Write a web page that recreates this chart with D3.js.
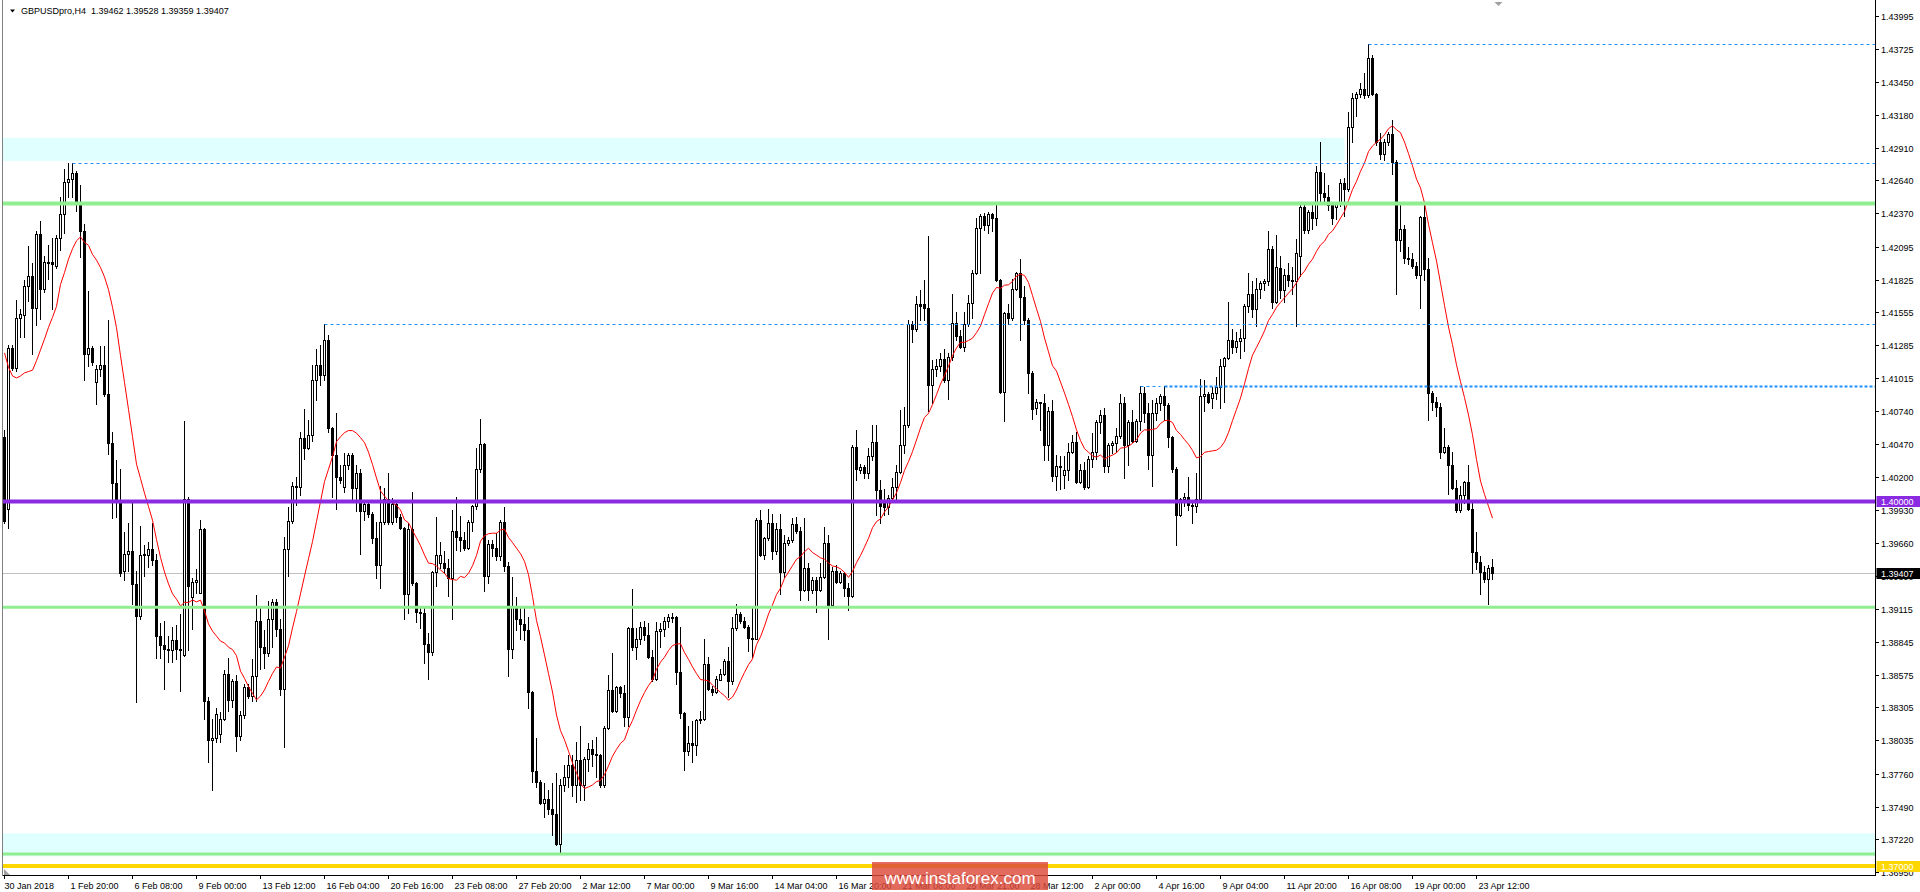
<!DOCTYPE html>
<html><head><meta charset="utf-8">
<script src="https://cdn.jsdelivr.net/npm/d3@7"></script>
<style>
html,body{margin:0;padding:0;background:#fff;overflow:hidden;}
svg{display:block;}
text{font-family:"Liberation Sans",Arial,sans-serif;}
</style></head><body>
<svg id="c" width="1920" height="892"></svg>
<script>
// ---------- DATA (GBPUSDpro, H4) ----------
const symbolTitle = "GBPUSDpro,H4";
const lastQuote = [1.39462, 1.39528, 1.39359, 1.39407];

const open = [1.4053,1.3994,1.4126,1.4110,1.4151,1.4153,1.4177,1.4185,1.4159,1.4220,1.4175,1.4197,1.4197,1.4194,1.4217,1.4236,1.4263,1.4265,1.4270,1.4246,
1.4222,1.4121,1.4126,1.4098,1.4109,1.4112,1.4088,1.4048,1.4015,1.4000,1.3943,1.3957,1.3959,1.3932,1.3906,1.3956,1.3956,1.3961,1.3952,1.3889,
1.3882,1.3878,1.3878,1.3886,1.3879,1.3874,1.4002,1.3921,1.3934,1.3925,1.3977,1.3836,1.3804,1.3805,1.3809,1.3821,1.3858,1.3837,1.3852,1.3807,
1.3824,1.3847,1.3840,1.3856,1.3902,1.3880,1.3875,1.3903,1.3917,1.3895,1.3846,1.3961,1.3984,1.4013,1.4012,1.4052,1.4044,1.4055,1.4100,1.4112,
1.4104,1.4133,1.4060,1.4038,1.4020,1.4012,1.4030,1.4038,1.4011,1.4023,1.3992,1.3998,1.3990,1.3970,1.3948,1.3983,1.4002,1.3983,1.3998,1.3987,
1.3978,1.3924,1.3977,1.3933,1.3909,1.3908,1.3883,1.3876,1.3942,1.3949,1.3949,1.3945,1.3937,1.3976,1.3971,1.3968,1.3962,1.3983,1.3996,1.4027,
1.4047,1.3939,1.3965,1.3962,1.3955,1.3983,1.3947,1.3879,1.3913,1.3903,1.3899,1.3894,1.3843,1.3778,1.3769,1.3752,1.3755,1.3747,1.3743,1.3718,
1.3767,1.3773,1.3783,1.3767,1.3787,1.3767,1.3788,1.3796,1.3792,1.3791,1.3767,1.3814,1.3845,1.3828,1.3847,1.3842,1.3823,1.3896,1.3880,1.3887,
1.3897,1.3890,1.3872,1.3854,1.3893,1.3895,1.3902,1.3905,1.3905,1.3860,1.3826,1.3795,1.3801,1.3800,1.3820,1.3821,1.3866,1.3846,1.3843,1.3853,
1.3858,1.3869,1.3852,1.3896,1.3907,1.3902,1.3897,1.3888,1.3887,1.3985,1.3956,1.3970,1.3982,1.3959,1.3977,1.3942,1.3966,1.3968,1.3981,1.3976,
1.3927,1.3945,1.3927,1.3935,1.3927,1.3938,1.3966,1.3915,1.3943,1.3934,1.3941,1.3929,1.3922,1.4045,1.4026,1.4028,1.4023,1.4037,1.4049,1.4009,
1.3999,1.3995,1.4003,1.4012,1.4024,1.4046,1.4063,1.4146,1.4142,1.4162,1.4162,1.4159,1.4096,1.4109,1.4111,1.4117,1.4100,1.4119,1.4147,1.4136,
1.4127,1.4146,1.4163,1.4188,1.4225,1.4235,1.4227,1.4236,1.4233,1.4182,1.4090,1.4155,1.4151,1.4175,1.4188,1.4168,1.4149,1.4106,1.4077,1.4082,
1.4081,1.4046,1.4074,1.4021,1.4029,1.4022,1.4026,1.4041,1.4049,1.4016,1.4026,1.4012,1.4035,1.4041,1.4065,1.4071,1.4029,1.4046,1.4048,1.4054,
1.4081,1.4046,1.4065,1.4050,1.4066,1.4089,1.4073,1.4038,1.4073,1.4081,1.4087,1.4079,1.4053,1.4027,1.3989,1.4002,1.4004,1.3997,1.3996,1.4002,
1.4087,1.4088,1.4085,1.4089,1.4094,1.4111,1.4118,1.4133,1.4127,1.4132,1.4134,1.4161,1.4171,1.4158,1.4175,1.4180,1.4181,1.4208,1.4164,1.4192,
1.4174,1.4186,1.4182,1.4181,1.4202,1.4242,1.4223,1.4238,1.4233,1.4271,1.4254,1.4250,1.4244,1.4242,1.4245,1.4262,1.4257,1.4308,1.4332,1.4335,
1.4339,1.4334,1.4365,1.4335,1.4296,1.4286,1.4296,1.4302,1.4279,1.4215,1.4224,1.4200,1.4199,1.4194,1.4186,1.4234,1.4191,1.4089,1.4082,1.4078,
1.4041,1.4045,1.4030,1.4011,1.3993,1.4005,1.4016,1.3994,1.3958,1.3950,1.3942,1.3936,1.39462];

const high = [1.4059,1.4129,1.4129,1.4166,1.4158,1.4182,1.4210,1.4196,1.4222,1.4231,1.4202,1.4211,1.4217,1.4219,1.4250,1.4273,1.4278,1.4278,1.4272,1.4260,
1.4228,1.4173,1.4128,1.4112,1.4128,1.4128,1.4149,1.4057,1.4034,1.4027,1.3975,1.3982,1.4000,1.3943,1.3980,1.3964,1.3967,1.3982,1.3957,1.3900,
1.3902,1.3889,1.3897,1.3898,1.3907,1.4066,1.4004,1.3937,1.3944,1.3985,1.3978,1.3839,1.3821,1.3830,1.3827,1.3861,1.3871,1.3854,1.3857,1.3828,
1.3850,1.3850,1.3870,1.3923,1.3912,1.3894,1.3918,1.3920,1.3920,1.3903,1.3971,1.3995,1.4016,1.4020,1.4057,1.4076,1.4067,1.4112,1.4125,1.4129,
1.4146,1.4137,1.4061,1.4073,1.4030,1.4040,1.4040,1.4040,1.4030,1.4027,1.4001,1.4001,1.3991,1.3983,1.4013,1.4011,1.4023,1.4003,1.4001,1.3990,
1.3979,1.3982,1.4008,1.3934,1.3913,1.3913,1.3892,1.3943,1.3987,1.3967,1.3959,1.3953,1.3993,1.4004,1.3988,1.3975,1.3985,1.3997,1.4044,1.4068,
1.4048,1.3968,1.3968,1.3974,1.3985,1.3995,1.3950,1.3938,1.3921,1.3912,1.3913,1.3905,1.3844,1.3805,1.3771,1.3768,1.3763,1.3768,1.3777,1.3772,
1.3783,1.3791,1.3791,1.3802,1.3815,1.3790,1.3801,1.3804,1.3806,1.3792,1.3815,1.3857,1.3875,1.3848,1.3848,1.3849,1.3897,1.3928,1.3896,1.3901,
1.3902,1.3900,1.3878,1.3901,1.3900,1.3905,1.3907,1.3908,1.3906,1.3897,1.3827,1.3815,1.3819,1.3821,1.3828,1.3887,1.3872,1.3848,1.3856,1.3862,
1.3870,1.3880,1.3905,1.3916,1.3909,1.3905,1.3898,1.3913,1.3986,1.3993,1.3971,1.3994,1.3990,1.3982,1.3990,1.3972,1.3971,1.3986,1.3987,1.3979,
1.3986,1.3949,1.3938,1.3938,1.3949,1.3979,1.3972,1.3946,1.3948,1.3943,1.3942,1.3933,1.4046,1.4059,1.4031,1.4030,1.4044,1.4063,1.4063,1.4018,
1.4010,1.4005,1.4019,1.4030,1.4075,1.4078,1.4149,1.4148,1.4169,1.4174,1.4182,1.4218,1.4116,1.4117,1.4122,1.4125,1.4122,1.4171,1.4156,1.4141,
1.4156,1.4170,1.4190,1.4233,1.4236,1.4237,1.4238,1.4237,1.4244,1.4183,1.4156,1.4162,1.4183,1.4189,1.4199,1.4177,1.4151,1.4107,1.4084,1.4082,
1.4088,1.4078,1.4083,1.4038,1.4037,1.4037,1.4048,1.4055,1.4057,1.4031,1.4032,1.4037,1.4056,1.4067,1.4075,1.4077,1.4048,1.4050,1.4060,1.4088,
1.4086,1.4067,1.4075,1.4068,1.4095,1.4094,1.4081,1.4083,1.4085,1.4088,1.4095,1.4081,1.4054,1.4028,1.4003,1.4007,1.4020,1.4001,1.4023,1.4101,
1.4100,1.4090,1.4094,1.4102,1.4117,1.4119,1.4164,1.4142,1.4139,1.4142,1.4162,1.4188,1.4181,1.4184,1.4181,1.4183,1.4222,1.4210,1.4219,1.4202,
1.4191,1.4196,1.4193,1.4216,1.4245,1.4245,1.4240,1.4244,1.4276,1.4296,1.4270,1.4260,1.4246,1.4246,1.4265,1.4266,1.4320,1.4336,1.4337,1.4344,
1.4352,1.4376,1.4367,1.4336,1.4303,1.4298,1.4304,1.4314,1.4281,1.4245,1.4227,1.4209,1.4204,1.4197,1.4235,1.4245,1.4200,1.4091,1.4086,1.4081,
1.4060,1.4046,1.4041,1.4018,1.4013,1.4017,1.4030,1.3999,1.3975,1.3955,1.3947,1.3948,1.39528];

const low = [1.3982,1.3978,1.4108,1.4107,1.4135,1.4135,1.4165,1.4121,1.4145,1.4150,1.4172,1.4183,1.4158,1.4192,1.4207,1.4221,1.4250,1.4250,1.4239,1.4201,
1.4100,1.4111,1.4112,1.4080,1.4103,1.4087,1.4039,1.3986,1.3987,1.3939,1.3935,1.3943,1.3916,1.3835,1.3903,1.3939,1.3946,1.3948,1.3871,1.3871,
1.3846,1.3868,1.3868,1.3870,1.3844,1.3873,1.3878,1.3895,1.3925,1.3925,1.3821,1.3786,1.3763,1.3802,1.3802,1.3820,1.3828,1.3831,1.3795,1.3804,
1.3822,1.3838,1.3836,1.3836,1.3862,1.3863,1.3873,1.3880,1.3889,1.3841,1.3798,1.3939,1.3982,1.3997,1.4005,1.4035,1.4043,1.4050,1.4083,1.4096,
1.4100,1.4057,1.4004,1.3994,1.4015,1.4008,1.4027,1.4001,1.3992,1.3957,1.3985,1.3987,1.3966,1.3937,1.3929,1.3981,1.3981,1.3981,1.3983,1.3977,
1.3903,1.3908,1.3931,1.3901,1.3896,1.3867,1.3854,1.3874,1.3930,1.3945,1.3941,1.3922,1.3903,1.3960,1.3959,1.3960,1.3961,1.3976,1.3994,1.4024,
1.3926,1.3933,1.3955,1.3952,1.3952,1.3943,1.3856,1.3871,1.3894,1.3887,1.3886,1.3830,1.3769,1.3765,1.3751,1.3740,1.3743,1.3726,1.3717,1.3710,
1.3762,1.3765,1.3758,1.3753,1.3754,1.3754,1.3778,1.3782,1.3773,1.3765,1.3765,1.3813,1.3827,1.3827,1.3839,1.3815,1.3815,1.3878,1.3870,1.3883,
1.3886,1.3871,1.3852,1.3853,1.3880,1.3889,1.3897,1.3901,1.3850,1.3822,1.3779,1.3791,1.3786,1.3791,1.3818,1.3820,1.3845,1.3841,1.3842,1.3853,
1.3857,1.3839,1.3850,1.3894,1.3900,1.3896,1.3877,1.3872,1.3887,1.3955,1.3953,1.3968,1.3953,1.3957,1.3924,1.3938,1.3964,1.3967,1.3974,1.3919,
1.3926,1.3919,1.3925,1.3909,1.3926,1.3937,1.3887,1.3913,1.3933,1.3933,1.3922,1.3911,1.3921,1.4018,1.4023,1.4019,1.4019,1.4034,1.3989,1.3982,
1.3989,1.3990,1.4001,1.4002,1.4023,1.4040,1.4061,1.4131,1.4140,1.4149,1.4149,1.4074,1.4081,1.4103,1.4107,1.4098,1.4084,1.4116,1.4133,1.4126,
1.4124,1.4144,1.4151,1.4187,1.4188,1.4223,1.4221,1.4222,1.4181,1.4089,1.4066,1.4146,1.4149,1.4174,1.4133,1.4146,1.4089,1.4068,1.4072,1.4059,
1.4034,1.4034,1.4017,1.4009,1.4010,1.4011,1.4018,1.4040,1.4015,1.4015,1.4010,1.4011,1.4028,1.4035,1.4056,1.4024,1.4024,1.4040,1.4041,1.4052,
1.4019,1.4030,1.4049,1.4049,1.4059,1.4065,1.4027,1.4013,1.4067,1.4075,1.4067,1.4045,1.4024,1.3964,1.3988,1.3996,1.3993,1.3982,1.3991,1.4000,
1.4074,1.4081,1.4077,1.4084,1.4077,1.4082,1.4117,1.4122,1.4123,1.4118,1.4124,1.4156,1.4152,1.4144,1.4167,1.4174,1.4178,1.4159,1.4163,1.4167,
1.4164,1.4177,1.4171,1.4144,1.4185,1.4221,1.4221,1.4224,1.4227,1.4245,1.4246,1.4240,1.4228,1.4232,1.4243,1.4235,1.4255,1.4296,1.4317,1.4333,
1.4332,1.4333,1.4334,1.4293,1.4282,1.4281,1.4293,1.4269,1.4171,1.4206,1.4196,1.4195,1.4192,1.4184,1.4159,1.4182,1.4067,1.4075,1.4070,1.4036,
1.4040,1.4006,1.4010,1.3991,1.3991,1.3999,1.3993,1.3941,1.3944,1.3924,1.3934,1.3916,1.39359];

const close = [1.3984,1.4126,1.4110,1.4151,1.4154,1.4177,1.4185,1.4159,1.4220,1.4175,1.4197,1.4196,1.4195,1.4217,1.4236,1.4263,1.4265,1.4270,1.4246,1.4222,
1.4121,1.4126,1.4115,1.4109,1.4112,1.4088,1.4048,1.4015,1.4000,1.3941,1.3957,1.3959,1.3932,1.3906,1.3956,1.3957,1.3961,1.3952,1.3889,1.3882,
1.3879,1.3879,1.3886,1.3879,1.3878,1.4002,1.3930,1.3934,1.3935,1.3977,1.3836,1.3804,1.3805,1.3825,1.3821,1.3858,1.3837,1.3852,1.3807,1.3824,
1.3847,1.3840,1.3856,1.3902,1.3880,1.3875,1.3903,1.3917,1.3895,1.3846,1.3961,1.3984,1.4013,1.4012,1.4052,1.4044,1.4055,1.4100,1.4112,1.4104,
1.4133,1.4060,1.4038,1.4020,1.4018,1.4030,1.4038,1.4011,1.4023,1.3992,1.3998,1.3990,1.3970,1.3948,1.3983,1.4002,1.3983,1.3998,1.3987,1.3978,
1.3924,1.3977,1.3933,1.3909,1.3908,1.3883,1.3876,1.3942,1.3956,1.3956,1.3945,1.3937,1.3976,1.3971,1.3968,1.3962,1.3983,1.3996,1.4027,1.4047,
1.3939,1.3965,1.3962,1.3955,1.3983,1.3947,1.3879,1.3913,1.3903,1.3899,1.3894,1.3843,1.3778,1.3769,1.3752,1.3755,1.3747,1.3743,1.3718,1.3767,
1.3773,1.3783,1.3767,1.3787,1.3767,1.3788,1.3796,1.3792,1.3791,1.3767,1.3814,1.3845,1.3828,1.3847,1.3842,1.3823,1.3896,1.3880,1.3887,1.3897,
1.3890,1.3872,1.3854,1.3893,1.3895,1.3902,1.3905,1.3904,1.3860,1.3826,1.3795,1.3801,1.3800,1.3820,1.3821,1.3866,1.3846,1.3843,1.3854,1.3858,
1.3869,1.3852,1.3896,1.3907,1.3902,1.3897,1.3888,1.3887,1.3985,1.3956,1.3970,1.3982,1.3959,1.3977,1.3942,1.3966,1.3968,1.3981,1.3976,1.3927,
1.3945,1.3927,1.3935,1.3927,1.3938,1.3966,1.3915,1.3943,1.3934,1.3941,1.3929,1.3922,1.4045,1.4027,1.4028,1.4023,1.4037,1.4049,1.4009,1.3996,
1.3995,1.4003,1.4012,1.4024,1.4046,1.4063,1.4146,1.4142,1.4162,1.4161,1.4159,1.4096,1.4109,1.4111,1.4117,1.4100,1.4119,1.4147,1.4136,1.4127,
1.4146,1.4163,1.4188,1.4225,1.4235,1.4227,1.4236,1.4233,1.4182,1.4090,1.4155,1.4151,1.4175,1.4188,1.4168,1.4149,1.4106,1.4076,1.4082,1.4081,
1.4046,1.4074,1.4021,1.4029,1.4028,1.4026,1.4041,1.4049,1.4016,1.4026,1.4012,1.4035,1.4041,1.4065,1.4071,1.4029,1.4046,1.4048,1.4054,1.4081,
1.4046,1.4065,1.4050,1.4066,1.4089,1.4073,1.4038,1.4073,1.4081,1.4087,1.4079,1.4053,1.4027,1.3989,1.4002,1.4004,1.3997,1.3996,1.4002,1.4087,
1.4088,1.4082,1.4089,1.4094,1.4111,1.4118,1.4133,1.4127,1.4132,1.4134,1.4161,1.4171,1.4158,1.4175,1.4180,1.4181,1.4208,1.4164,1.4193,1.4174,
1.4186,1.4182,1.4181,1.4204,1.4242,1.4223,1.4238,1.4233,1.4271,1.4254,1.4250,1.4244,1.4233,1.4245,1.4262,1.4257,1.4308,1.4332,1.4335,1.4339,
1.4334,1.4365,1.4335,1.4296,1.4286,1.4296,1.4302,1.4279,1.4215,1.4224,1.4200,1.4199,1.4194,1.4186,1.4234,1.4191,1.4089,1.4082,1.4078,1.4041,
1.4045,1.4030,1.4011,1.3993,1.4005,1.4016,1.3994,1.3958,1.3950,1.3942,1.3936,1.3945,1.39407];

// moving average (red) values visible before 14 bars are available on screen
const maLead = [1.41221,1.41103,1.41032,1.41015,1.41032,1.41057,1.41068,1.41079,1.41157,1.41246,1.41335,1.41432,1.41514];
const maPeriod = 14;

const timeLabels = ["30 Jan 2018","1 Feb 20:00","6 Feb 08:00","9 Feb 00:00","13 Feb 12:00","16 Feb 04:00","20 Feb 16:00","23 Feb 08:00",
"27 Feb 20:00","2 Mar 12:00","7 Mar 00:00","9 Mar 16:00","14 Mar 04:00","16 Mar 20:00","21 Mar 08:00","25 Mar 21:00",
"28 Mar 12:00","2 Apr 00:00","4 Apr 16:00","9 Apr 04:00","11 Apr 20:00","16 Apr 08:00","19 Apr 00:00","23 Apr 12:00"];
const barsPerTimeLabel = 16;

const priceTicks = [1.43995,1.43725,1.43450,1.43180,1.42910,1.42640,1.42370,1.42095,1.41825,1.41555,1.41285,1.41015,1.40740,
1.40470,1.40200,1.39930,1.39660,1.39390,1.39115,1.38845,1.38575,1.38305,1.38035,1.37760,1.37490,1.37220,1.36950];

const zoneTop = [1.4299, 1.4280];       // upper shaded zone (price top, bottom)
const zoneTopEndBar = 335;
const zoneBottom = [1.3727, 1.3708];    // lower shaded zone
const greenLevels = [1.4245, 1.3913, 1.3710];
const roundLevel = 1.40000;
const yellowLevel = 1.37000;
const dashLevels = [1.4278, 1.4376, 1.4146];
const dashFromBar = [17, 341, 80];
const dotLevel = 1.4095;
const dotFromBars = [284, 290];
const watermark = "www.instaforex.com";

// ---------- DRAW ----------
const W = 1920, H = 892;
const x = d3.scaleLinear().domain([0, 368]).range([4.5, 1476.5]);
const y = d3.scaleLinear().domain([1.36950, 1.43995]).range([872.2, 15.7]);
const AX = 1875.5, BY = 875.5;
const fmt = d3.format(".5f");

const svg = d3.select("#c");
svg.append("rect").attr("width", W).attr("height", H).attr("fill", "#fff");
const defs = svg.append("defs");
defs.append("clipPath").attr("id", "pc").append("rect")
  .attr("x", 3).attr("y", 0).attr("width", AX - 3).attr("height", BY);
const g = svg.append("g").attr("clip-path", "url(#pc)");

// shaded zones
g.append("rect").attr("x", 3).attr("width", x(zoneTopEndBar) - 3)
  .attr("y", y(zoneTop[0])).attr("height", y(zoneTop[1]) - y(zoneTop[0]))
  .attr("fill", "#e0ffff");
g.append("rect").attr("x", 3).attr("width", AX - 3)
  .attr("y", y(zoneBottom[0])).attr("height", y(zoneBottom[1]) - y(zoneBottom[0]))
  .attr("fill", "#e0ffff");

// current price line (behind candles)
const last = lastQuote[3];
g.append("line").attr("x1", 3).attr("x2", AX)
  .attr("y1", Math.round(y(last)) + 0.5).attr("y2", Math.round(y(last)) + 0.5)
  .attr("stroke", "#c0c0c0").attr("stroke-width", 1);

// candles
const idx = d3.range(close.length);
const cg = g.append("g").attr("shape-rendering", "crispEdges");
idx.forEach(i => {
  const cx = Math.round(x(i) - 0.5) + 0.5;
  const o = open[i], c = close[i];
  cg.append("line").attr("x1", cx).attr("x2", cx)
    .attr("y1", Math.round(y(high[i]))).attr("y2", Math.round(y(low[i])) + 1)
    .attr("stroke", "#000");
  const t = Math.round(y(Math.max(o, c))), b = Math.round(y(Math.min(o, c)));
  const bull = c >= o;
  cg.append("rect").attr("x", cx - 1).attr("width", 2)
    .attr("y", t + 0.5).attr("height", Math.max(0, b - t))
    .attr("fill", bull ? "#fff" : "#000").attr("stroke", "#000").attr("stroke-width", 1);
});

// moving average
const ma = idx.map(i => i < maLead.length ? maLead[i] : d3.mean(close.slice(i - maPeriod + 1, i + 1)));
g.append("path").datum(idx)
  .attr("d", d3.line().x(i => x(i)).y(i => y(ma[i])))
  .attr("fill", "none").attr("stroke", "#ff0000").attr("stroke-width", 1);

// green levels
greenLevels.forEach((p, k) => {
  g.append("line").attr("x1", 3).attr("x2", AX).attr("y1", y(p)).attr("y2", y(p))
    .attr("stroke", "#90ee90").attr("stroke-width", k === 0 ? 4 : 3);
});
// dashed blue levels
dashLevels.forEach((p, k) => {
  const yy = Math.round(y(p)) + 0.5;
  g.append("line").attr("x1", x(dashFromBar[k])).attr("x2", AX).attr("y1", yy).attr("y2", yy)
    .attr("stroke", "#1e90ff").attr("stroke-width", 1).attr("stroke-dasharray", "3,3");
});
{
  const yy = Math.round(y(dotLevel)) + 0.5;
  g.append("line").attr("x1", x(dotFromBars[0])).attr("x2", x(dotFromBars[1]) - 4).attr("y1", yy).attr("y2", yy)
    .attr("stroke", "#1e90ff").attr("stroke-width", 1).attr("stroke-dasharray", "3,3");
  g.append("line").attr("x1", x(dotFromBars[1])).attr("x2", AX).attr("y1", yy).attr("y2", yy)
    .attr("stroke", "#1e90ff").attr("stroke-width", 2).attr("stroke-dasharray", "3,2");
}
// round number and yellow line
g.append("line").attr("x1", 3).attr("x2", AX).attr("y1", y(roundLevel)).attr("y2", y(roundLevel))
  .attr("stroke", "#8a2be2").attr("stroke-width", 4);
g.append("line").attr("x1", 3).attr("x2", AX).attr("y1", y(yellowLevel)).attr("y2", y(yellowLevel))
  .attr("stroke", "#ffd700").attr("stroke-width", 4);

// frame
const fr = svg.append("g").attr("shape-rendering", "crispEdges").attr("stroke", "#000");
fr.append("line").attr("x1", AX).attr("x2", AX).attr("y1", 0).attr("y2", BY + 0.5);
fr.append("line").attr("x1", 2.5).attr("x2", AX).attr("y1", BY).attr("y2", BY);
fr.append("line").attr("x1", 2.5).attr("x2", 2.5).attr("y1", 0).attr("y2", BY).attr("stroke", "#808080");

// price axis
const pa = svg.append("g");
priceTicks.forEach(p => {
  const yy = Math.round(y(p)) + 0.5;
  pa.append("line").attr("x1", AX).attr("x2", AX + 3).attr("y1", yy).attr("y2", yy)
    .attr("stroke", "#000").attr("shape-rendering", "crispEdges");
  pa.append("text").attr("x", 1881).attr("y", yy + 3.5).attr("font-size", 9).attr("fill", "#000").text(fmt(p));
});
function priceTag(p, bg, fg) {
  const yy = y(p);
  pa.append("rect").attr("x", AX + 1).attr("y", Math.round(yy) - 5).attr("width", 44).attr("height", 11).attr("fill", bg);
  pa.append("text").attr("x", 1881).attr("y", Math.round(yy) + 3.5).attr("font-size", 9).attr("fill", fg).text(fmt(p));
}
priceTag(roundLevel, "#8a2be2", "#fff");
priceTag(last, "#000", "#fff");
priceTag(yellowLevel, "#ffd700", "#fff");

// time axis
const ta = svg.append("g");
timeLabels.forEach((s, k) => {
  const xx = Math.round(x(k * barsPerTimeLabel) - 0.5) + 0.5;
  ta.append("line").attr("x1", xx).attr("x2", xx).attr("y1", BY).attr("y2", BY + 3)
    .attr("stroke", "#000").attr("shape-rendering", "crispEdges");
  ta.append("text").attr("x", k === 0 ? xx : xx + 2).attr("y", 888.5).attr("font-size", 9).attr("fill", "#000").text(s);
});
// small markers
svg.append("path").attr("d", "M4,869 L4,875 L10,875 Z").attr("fill", "#a0a0a0");
svg.append("path").attr("d", `M${x(372) + 2},2 L${x(372) + 10},2 L${x(372) + 6},6 Z`).attr("fill", "#a0a0a0");

// title
svg.append("path").attr("d", "M10,9.5 L15,9.5 L12.5,12.5 Z").attr("fill", "#000");
svg.append("text").attr("x", 21).attr("y", 13.5).attr("font-size", 9).attr("fill", "#000")
  .attr("xml:space", "preserve").style("white-space", "pre")
  .text(symbolTitle + "  " + lastQuote.map(fmt).join(" "));

// watermark
svg.append("rect").attr("x", 872).attr("y", 862).attr("width", 176).attr("height", 28)
  .attr("fill", "#dc4a3a").attr("opacity", 0.82);
svg.append("text").attr("x", 960).attr("y", 884).attr("text-anchor", "middle")
  .attr("font-size", 17).attr("fill", "#fff").text(watermark);
</script>
</body></html>
